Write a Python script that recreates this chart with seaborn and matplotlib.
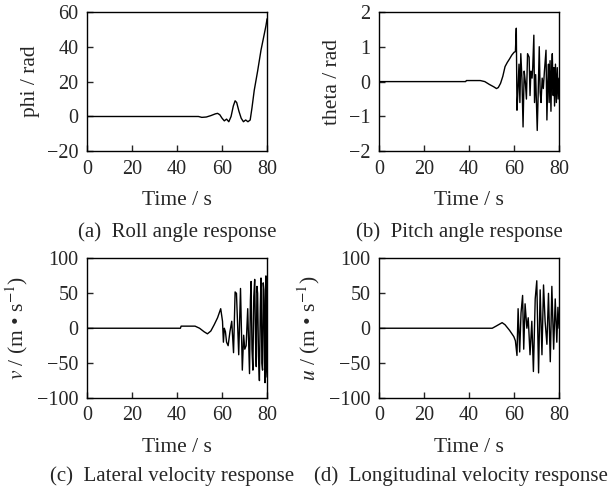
import numpy as np
import pandas as pd
import matplotlib
matplotlib.use('Agg')
import matplotlib.pyplot as plt
import seaborn as sns

# Roll angle (a)
t_a = [0, 49.5, 51, 53, 55, 57, 58, 59, 60, 61, 62, 63, 64, 65, 65.8, 66.5,
       67.5, 68.5, 69.5, 70.5, 71.5, 72.5, 73.3, 74.3, 75.8, 77.3, 78.8, 79.5, 80]
phi = [0, 0, -0.5, -0.3, 0.5, 1.5, 1.8, 1, -1, -2.5, -1.5, -3, 0, 6, 9, 8,
       3, -1, -3, -2, -3, -2, 5, 15, 26, 38, 47.5, 52, 56]

# Pitch angle (b)
t_b = [0, 38.5, 38.8, 45, 47, 49, 51, 52.2, 53, 54, 55, 56, 57, 58, 59, 60,
       60.6, 61, 61.3, 61.7, 62.2, 62.6, 63, 63.5, 64, 64.5, 65, 65.5, 66,
       66.7, 67.1, 67.5, 68, 68.3, 68.8, 69.1, 69.6, 70.3, 70.7, 71.2, 71.6,
       72, 72.5, 73, 73.5, 74.2, 74.6, 75, 75.3, 75.6, 76, 76.4, 76.7, 77,
       77.4, 77.7, 78, 78.4, 78.8, 79.2, 79.6, 80]
theta = [0, 0, 0.03, 0.03, 0.0, -0.08, -0.15, -0.2, -0.17, -0.05, 0.15, 0.43,
         0.55, 0.65, 0.76, 0.84, 0.86, 1.53, -0.82, -0.3, 0.5, -0.6, 0.8, 0.1,
         -1.3, 0.3, 0.0, -0.5, 0.8, 0.7, -0.4, 0.3, 0.1, 0.4, 1.33, -0.6, 0.2,
         -1.4, -0.4, 1.0, -0.3, -0.6, 0.1, -0.2, 0.3, 0.9, -1.1, 0.0, 0.5,
         -0.6, 0.6, -0.85, 0.3, 0.8, -0.4, 0.4, -0.7, 0.5, -0.6, 0.4, -0.5, 0.1]

# Lateral velocity (c)
t_c = [0, 41.5, 41.8, 48, 50, 52, 53.5, 55, 56.5, 58, 59.4, 60.2, 60.6, 61,
       61.5, 62, 62.7, 63.5, 64.3, 65.1, 65.8, 66.4, 67.4, 68.2, 69, 69.6,
       70.1, 70.7, 71.4, 72.2, 72.6, 72.9, 73.3, 73.7, 74.1, 74.5, 74.9, 75.2,
       75.5, 75.8, 76.2, 76.6, 77, 77.3, 77.7, 78, 78.3, 78.6, 78.9, 79.1,
       79.3, 79.5, 79.8, 80]
v_lat = [0, 0, 3, 3, 0, -5, -8, -4, 5, 15, 28, 10, -20, 0,
         -5, -20, -25, -5, 10, -35, 52, 50, -38, 57, -60, -10,
         -30, -25, 28, -65, 40, 67, -30, -60, 45, 70, -20, -55,
         60, 50, -40, -75, 30, 72, -50, -60, 65, 55, -45, -78,
         40, 75, -60, -70]

# Longitudinal velocity (d)
t_d = [0, 50.3, 52, 54.7, 56, 58, 59.9, 60.6, 61.3, 61.8, 62.5, 63.1, 63.8,
       64.3, 64.9, 65.7, 66.3, 67.1, 67.9, 68.6, 69.4, 70.1, 70.9, 71.6, 72.4,
       73.1, 73.8, 74.6, 75.3, 76.1, 76.8, 77.6, 78.3, 79, 79.5, 80]
u_lon = [0, 0, 3, 8, 5, -3, -12, -18, -39, 28, -34, 22, 47,
         -30, 35, 0, 15, -38, 10, -62, 42, 68, -64, 55, -38,
         62, 10, -23, 50, -48, 60, -30, 42, -20, 30, 0]

panels = [
    (t_a, phi, 'phi / rad', (-20, 60), [-20, 0, 20, 40, 60], '(a)  Roll angle response'),
    (t_b, theta, 'theta / rad', (-2, 2), [-2, -1, 0, 1, 2], '(b)  Pitch angle response'),
    (t_c, v_lat, r'$v$ / (m • s$^{-1}$)', (-100, 100), [-100, -50, 0, 50, 100],
     '(c)  Lateral velocity response'),
    (t_d, u_lon, r'$u$ / (m • s$^{-1}$)', (-100, 100), [-100, -50, 0, 50, 100],
     '(d)  Longitudinal velocity response'),
]

sns.set_style('ticks')
plt.rcParams['font.family'] = ['Liberation Serif', 'DejaVu Serif']
plt.rcParams['mathtext.fontset'] = 'stix'
plt.rcParams['font.size'] = 15

fig, axes = plt.subplots(2, 2, figsize=(6.13, 4.92), dpi=100)
fig.subplots_adjust(left=0.142, right=0.912, top=0.976, bottom=0.191,
                    wspace=0.622, hspace=0.767)

caption_pos = [(177, 232), (459, 232), (172, 476), (461, 476)]

for ax, (t, y, ylab, ylim, yticks, cap), (cx, cy) in zip(axes.flat, panels, caption_pos):
    df = pd.DataFrame({'t': t, 'y': y})
    sns.lineplot(data=df, x='t', y='y', ax=ax, color='black', linewidth=1.0,
                 estimator=None, sort=False)
    ax.set_xlim(0, 80)
    ax.set_ylim(*ylim)
    ax.set_xticks([0, 20, 40, 60, 80])
    ax.set_yticks(yticks)
    ax.tick_params(direction='in', length=4, width=1, labelsize=14.5, pad=6)
    for s in ax.spines.values():
        s.set_linewidth(1.0)
        s.set_color('black')
    ax.set_xlabel('Time / s', fontsize=15.5, labelpad=9)
    ax.set_ylabel(ylab, fontsize=15.5, labelpad=5)
    fig.text(cx / 613, 1 - cy / 492, cap, ha='center', va='center', fontsize=15)

fig.savefig('out.png', dpi=100)
